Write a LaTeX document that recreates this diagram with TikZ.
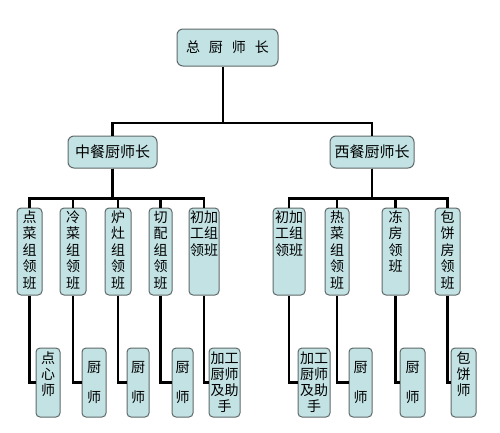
\documentclass[tikz,border=0pt]{standalone}
\usepackage{fontspec}
\newfontfamily\cjk{Noto Sans CJK SC}
\definecolor{boxfill}{RGB}{195,226,228}
\definecolor{boxline}{RGB}{95,105,105}
\begin{document}
\begin{tikzpicture}[x=1pt,y=-1pt,
  box/.style={draw=boxline, line width=1pt, fill=boxfill, rounded corners=4pt, inner sep=0pt, align=center},
  hdr/.style={box, font=\cjk\fontsize{15}{17}\selectfont},
  rtwo/.style={box, font=\cjk\fontsize{14}{16.5}\selectfont, minimum height=87pt, text width=14pt, text height=14pt, text depth=73pt},
  rtwow/.style={rtwo, text width=28pt},
  rthree/.style={box, font=\cjk\fontsize{14}{16}\selectfont, minimum height=69pt, text width=14pt, text height=15pt, text depth=54pt},
  rthreec/.style={rthree, text height=24pt, text depth=45pt},
  conn/.style={line width=2.2pt, black}]
\useasboundingbox (0,0) rectangle (500,432);
\fill[white] (0,0) rectangle (500,432);

% top levels
\node[hdr, rounded corners=6pt, minimum width=101pt, minimum height=37pt, font=\cjk\fontsize{14}{16}\selectfont] (top) at (227.5,47.5) {总\hspace{9pt}厨\hspace{9pt}师\hspace{9pt}长};
\node[hdr, rounded corners=6pt, minimum width=89pt, minimum height=32pt] (zc) at (112.5,152) {中餐厨师长};
\node[hdr, rounded corners=6pt, minimum width=84pt, minimum height=32pt] (xc) at (372,152) {西餐厨师长};

% second row, Chinese
\node[rtwo, minimum width=25pt] (a1) at (29.5,251.5) {点\\菜\\组\\领\\班};
\node[rtwo, minimum width=26pt] (a2) at (73,251.5) {冷\\菜\\组\\领\\班};
\node[rtwo, minimum width=26pt] (a3) at (118,251.5) {炉\\灶\\组\\领\\班};
\node[rtwo, minimum width=23pt] (a4) at (160.5,251.5) {切\\配\\组\\领\\班};
\node[rtwow, minimum width=30pt] (a5) at (204,251.5) {初加\\工组\\领班};
% second row, Western
\node[rtwow, minimum width=32pt] (b1) at (289,251.5) {初加\\工组\\领班};
\node[rtwo, minimum width=24pt] (b2) at (337,251.5) {热\\菜\\组\\领\\班};
\node[rtwo, minimum width=27pt] (b3) at (395.5,251.5) {冻\\房\\领\\班};
\node[rtwo, minimum width=25pt] (b4) at (447.5,251.5) {包\\饼\\房\\领\\班};

% third row
\node[rthree, minimum width=24pt] (c1) at (48,382.5) {点\\心\\师};
\node[rthreec, minimum width=24pt] (c2) at (94,382.5) {厨\\[14pt]师};
\node[rthreec, minimum width=22pt] (c3) at (138,382.5) {厨\\[14pt]师};
\node[rthreec, minimum width=21pt] (c4) at (182.5,382.5) {厨\\[14pt]师};
\node[rthree, text width=28pt, minimum width=31pt] (c5) at (224.5,382.5) {加工\\厨师\\及助\\手};
\node[rthree, text width=28pt, minimum width=32pt] (d1) at (314,382.5) {加工\\厨师\\及助\\手};
\node[rthreec, minimum width=23pt] (d2) at (360.5,382.5) {厨\\[14pt]师};
\node[rthreec, minimum width=25pt] (d3) at (412.5,382.5) {厨\\[14pt]师};
\node[rthree, minimum width=25pt] (d4) at (463.5,382.5) {包\\饼\\师};

% connectors
\coordinate (tb) at (223,123);
\draw[conn] (top.south -| tb) -- (tb);
\draw[conn] (zc.north) |- (tb) -| (xc.north);
\foreach \n in {a1,a2,a3,a4,a5}
  \draw[conn] (zc.south) -- ++(0,30) -| (\n.north);
\foreach \n in {b1,b2,b3,b4}
  \draw[conn] (xc.south) -- ++(0,30) -| (\n.north);
\foreach \a/\c in {a1/c1,a2/c2,a3/c3,a4/c4,a5/c5,b1/d1,b2/d2,b3/d3,b4/d4}
  \draw[conn] (\a.south) |- (\c.west);
\end{tikzpicture}
\end{document}
